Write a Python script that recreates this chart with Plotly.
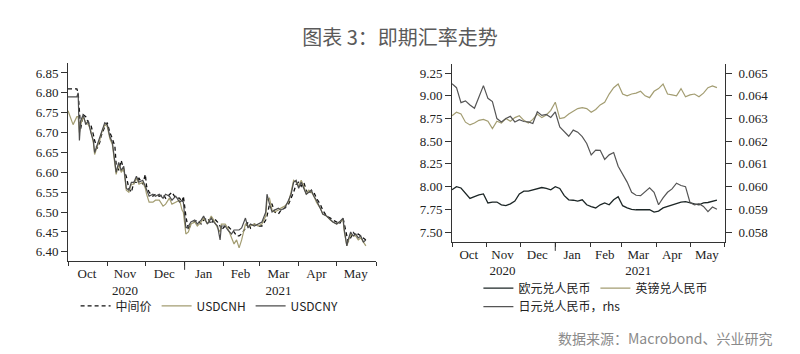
import plotly.graph_objects as go

# ---------------- Left chart: USD/CNY spot ----------------
left_dates = [
    "2020-10-01", "2020-10-05", "2020-10-08", "2020-10-09", "2020-10-10", "2020-10-11",
    "2020-10-13", "2020-10-15", "2020-10-17", "2020-10-19", "2020-10-21", "2020-10-22",
    "2020-10-24", "2020-10-26", "2020-10-27", "2020-10-30", "2020-11-01", "2020-11-03",
    "2020-11-05", "2020-11-07", "2020-11-08", "2020-11-10", "2020-11-12", "2020-11-14",
    "2020-11-16", "2020-11-18", "2020-11-20", "2020-11-22", "2020-11-24", "2020-11-26",
    "2020-11-29", "2020-12-01", "2020-12-02", "2020-12-04", "2020-12-07", "2020-12-09",
    "2020-12-12", "2020-12-15", "2020-12-17", "2020-12-20", "2020-12-22", "2020-12-25",
    "2020-12-28", "2020-12-30", "2020-12-31", "2021-01-02", "2021-01-04", "2021-01-06",
    "2021-01-09", "2021-01-11", "2021-01-14", "2021-01-16", "2021-01-19", "2021-01-22",
    "2021-01-24", "2021-01-27", "2021-01-29", "2021-01-30", "2021-02-02", "2021-02-04",
    "2021-02-07", "2021-02-09", "2021-02-11", "2021-02-13", "2021-02-15", "2021-02-18",
    "2021-02-20", "2021-02-22", "2021-02-25", "2021-02-28", "2021-03-03", "2021-03-06",
    "2021-03-07", "2021-03-09", "2021-03-11", "2021-03-13", "2021-03-16", "2021-03-18",
    "2021-03-21", "2021-03-24", "2021-03-26", "2021-03-28", "2021-03-30", "2021-04-01",
    "2021-04-03", "2021-04-05", "2021-04-07", "2021-04-09", "2021-04-11", "2021-04-13",
    "2021-04-15", "2021-04-18", "2021-04-20", "2021-04-23", "2021-04-26", "2021-04-28",
    "2021-05-01", "2021-05-03", "2021-05-06", "2021-05-07", "2021-05-09", "2021-05-10",
    "2021-05-12", "2021-05-14", "2021-05-16", "2021-05-18", "2021-05-20", "2021-05-22",
    "2021-05-24",
]
usdcny = [
    6.790, 6.790, 6.790, 6.800, 6.680, 6.730, 6.745, 6.720, 6.730, 6.700, 6.680, 6.650,
    6.670, 6.685, 6.700, 6.725, 6.720, 6.690, 6.675, 6.630, 6.600, 6.625, 6.605, 6.615,
    6.560, 6.555, 6.575, 6.575, 6.590, 6.575, 6.580, 6.565, 6.555, 6.540, 6.545, 6.540,
    6.545, 6.535, 6.545, 6.540, 6.530, 6.540, 6.525, 6.530, 6.525, 6.460, 6.465, 6.475,
    6.480, 6.470, 6.480, 6.490, 6.470, 6.485, 6.475, 6.465, 6.430, 6.465, 6.465, 6.455,
    6.445, 6.455, 6.455, 6.455, 6.460, 6.485, 6.460, 6.470, 6.465, 6.470, 6.475, 6.500,
    6.545, 6.520, 6.500, 6.505, 6.510, 6.505, 6.510, 6.530, 6.545, 6.575, 6.580, 6.560,
    6.575, 6.560, 6.545, 6.550, 6.555, 6.540, 6.530, 6.510, 6.495, 6.490, 6.480, 6.475,
    6.470, 6.475, 6.485, 6.455, 6.415, 6.430, 6.450, 6.440, 6.445, 6.435, 6.440, 6.425,
    6.430,
]
usdcnh = [
    6.755, 6.720, 6.740, 6.740, 6.700, 6.720, 6.740, 6.725, 6.720, 6.705, 6.675, 6.645,
    6.665, 6.680, 6.695, 6.720, 6.715, 6.685, 6.670, 6.625, 6.595, 6.620, 6.600, 6.610,
    6.555, 6.550, 6.570, 6.570, 6.585, 6.570, 6.575, 6.560, 6.545, 6.525, 6.525, 6.530,
    6.530, 6.515, 6.520, 6.535, 6.520, 6.525, 6.530, 6.505, 6.500, 6.445, 6.450, 6.470,
    6.475, 6.465, 6.475, 6.485, 6.470, 6.490, 6.480, 6.460, 6.450, 6.470, 6.470, 6.460,
    6.435, 6.420, 6.430, 6.410, 6.430, 6.470, 6.465, 6.465, 6.470, 6.465, 6.470, 6.490,
    6.530, 6.535, 6.505, 6.500, 6.505, 6.510, 6.515, 6.525, 6.550, 6.580, 6.575, 6.565,
    6.580, 6.565, 6.545, 6.555, 6.550, 6.540, 6.525, 6.510, 6.495, 6.490, 6.480, 6.475,
    6.470, 6.475, 6.480, 6.450, 6.415, 6.425, 6.445, 6.440, 6.440, 6.430, 6.435, 6.425,
    6.415,
]
fixing = [
    6.810, 6.810, 6.810, 6.800, 6.750, 6.710, 6.745, 6.740, 6.725, 6.720, 6.695, 6.680,
    6.660, 6.675, 6.690, 6.715, 6.725, 6.700, 6.685, 6.665, 6.620, 6.605, 6.630, 6.605,
    6.590, 6.560, 6.550, 6.575, 6.575, 6.585, 6.570, 6.595, 6.565, 6.550, 6.540, 6.545,
    6.540, 6.545, 6.535, 6.545, 6.550, 6.535, 6.535, 6.525, 6.540, 6.490, 6.455, 6.470,
    6.475, 6.480, 6.470, 6.480, 6.485, 6.470, 6.485, 6.475, 6.465, 6.455, 6.465, 6.465,
    6.455, 6.450, 6.440, 6.440, 6.445, 6.460, 6.475, 6.460, 6.470, 6.465, 6.465, 6.480,
    6.490, 6.520, 6.520, 6.500, 6.495, 6.505, 6.510, 6.520, 6.535, 6.550, 6.570, 6.575,
    6.565, 6.575, 6.555, 6.545, 6.555, 6.550, 6.535, 6.520, 6.505, 6.490, 6.485, 6.480,
    6.475, 6.470, 6.485, 6.470, 6.445, 6.425, 6.435, 6.450, 6.440, 6.445, 6.440, 6.435,
    6.430,
]

# ---------------- Right chart: EUR, GBP, JPY vs CNY ----------------
right_dates = [
    "2020-10-01", "2020-10-05", "2020-10-09", "2020-10-13", "2020-10-17", "2020-10-21",
    "2020-10-25", "2020-10-29", "2020-11-02", "2020-11-06", "2020-11-10", "2020-11-14",
    "2020-11-18", "2020-11-22", "2020-11-26", "2020-11-30", "2020-12-04", "2020-12-08",
    "2020-12-12", "2020-12-16", "2020-12-20", "2020-12-24", "2020-12-28", "2021-01-01",
    "2021-01-05", "2021-01-09", "2021-01-13", "2021-01-17", "2021-01-21", "2021-01-25",
    "2021-01-29", "2021-02-02", "2021-02-06", "2021-02-10", "2021-02-14", "2021-02-18",
    "2021-02-22", "2021-02-26", "2021-03-02", "2021-03-06", "2021-03-10", "2021-03-14",
    "2021-03-18", "2021-03-22", "2021-03-26", "2021-03-30", "2021-04-03", "2021-04-07",
    "2021-04-11", "2021-04-15", "2021-04-19", "2021-04-23", "2021-04-27", "2021-05-01",
    "2021-05-05", "2021-05-09", "2021-05-13", "2021-05-17", "2021-05-21", "2021-05-25",
]
eurcny = [
    7.965, 8.000, 7.985, 7.930, 7.870, 7.890, 7.910, 7.920, 7.820, 7.830, 7.830, 7.800,
    7.790, 7.810, 7.840, 7.920, 7.950, 7.950, 7.965, 7.980, 7.990, 7.980, 7.965, 8.000,
    7.980, 7.900, 7.855, 7.850, 7.840, 7.855, 7.800, 7.780, 7.765, 7.800, 7.820, 7.800,
    7.855, 7.890, 7.790, 7.765, 7.750, 7.745, 7.745, 7.745, 7.745, 7.720, 7.730, 7.765,
    7.780, 7.800, 7.815, 7.830, 7.835, 7.820, 7.810, 7.800, 7.820, 7.825, 7.840, 7.850,
]
gbpcny = [
    8.780, 8.820, 8.800, 8.710, 8.680, 8.700, 8.730, 8.740, 8.720, 8.640, 8.720, 8.700,
    8.750, 8.720, 8.760, 8.780, 8.730, 8.700, 8.740, 8.800, 8.760, 8.790, 8.840, 8.930,
    8.750, 8.760, 8.800, 8.830, 8.860, 8.870, 8.860, 8.820, 8.850, 8.900, 8.930, 9.020,
    9.090, 9.130, 9.020, 9.000, 9.020, 9.030, 9.050, 9.000, 8.980, 9.050, 9.080, 9.130,
    9.020, 9.010, 9.000, 9.080, 8.990, 9.010, 9.020, 8.990, 9.030, 9.090, 9.110, 9.090,
]
jpycny = [
    0.06453, 0.06436, 0.06370, 0.06378, 0.06360, 0.06345, 0.06395, 0.06445, 0.06389, 0.06375,
    0.06300, 0.06285, 0.06300, 0.06310, 0.06285, 0.06295, 0.06287, 0.06285, 0.06278, 0.06330,
    0.06314, 0.06318, 0.06305, 0.06329, 0.06263, 0.06240, 0.06222, 0.06249, 0.06240, 0.06220,
    0.06190, 0.06140, 0.06161, 0.06160, 0.06120, 0.06140, 0.06150, 0.06090, 0.06055, 0.06020,
    0.05975, 0.05962, 0.05960, 0.05978, 0.05995, 0.05975, 0.05920, 0.05950, 0.05975, 0.05990,
    0.06015, 0.06005, 0.06000, 0.05930, 0.05920, 0.05925, 0.05913, 0.05890, 0.05910, 0.05900,
]

# ---------------- Axis labels ----------------
month_starts = [
    "2020-10-01", "2020-11-01", "2020-12-01", "2021-01-01", "2021-02-01",
    "2021-03-01", "2021-04-01", "2021-05-01", "2021-06-01",
]
month_mids = [
    "2020-10-16", "2020-11-15", "2020-12-16", "2021-01-16",
    "2021-02-14", "2021-03-16", "2021-04-15", "2021-05-16",
]
month_text = ["Oct", "Nov<br>2020", "Dec", "Jan", "Feb", "Mar<br>2021", "Apr", "May"]

TITLE = "图表 3：即期汇率走势"
SOURCE = "数据来源：Macrobond、兴业研究"

SERIF = "Liberation Serif, Times New Roman, serif"
CJK = "Noto Sans CJK SC, sans-serif"
AX = "#333333"

fig = go.Figure()

fig.add_trace(go.Scatter(x=left_dates, y=fixing, name="中间价", mode="lines",
                         line=dict(color="#111111", width=1.3, dash="4px,3px"),
                         xaxis="x", yaxis="y", legend="legend"))
fig.add_trace(go.Scatter(x=left_dates, y=usdcnh, name="USDCNH", mode="lines",
                         line=dict(color="#a39d72", width=1.2),
                         xaxis="x", yaxis="y", legend="legend"))
fig.add_trace(go.Scatter(x=left_dates, y=usdcny, name="USDCNY", mode="lines",
                         line=dict(color="#4d4d4d", width=1.2),
                         xaxis="x", yaxis="y", legend="legend"))

fig.add_trace(go.Scatter(x=right_dates, y=eurcny, name="欧元兑人民币", mode="lines",
                         line=dict(color="#1c2626", width=1.3),
                         xaxis="x2", yaxis="y2", legend="legend2"))
fig.add_trace(go.Scatter(x=right_dates, y=gbpcny, name="英镑兑人民币", mode="lines",
                         line=dict(color="#a39d72", width=1.2),
                         xaxis="x2", yaxis="y2", legend="legend2"))
fig.add_trace(go.Scatter(x=right_dates, y=jpycny, name="日元兑人民币，rhs", mode="lines",
                         line=dict(color="#555555", width=1.2),
                         xaxis="x2", yaxis="y3", legend="legend3"))


def xaxis_cfg(domain, anchor):
    return dict(
        domain=domain, anchor=anchor, type="date",
        range=["2020-10-01", "2021-06-01"],
        tickmode="array", tickvals=month_mids, ticktext=month_text, ticks="",
        showline=True, linecolor=AX, linewidth=1, showgrid=False, zeroline=False,
        tickfont=dict(family=SERIF, size=13, color="#222222"),
        minor=dict(tickmode="array", tickvals=month_starts, ticks="outside",
                   ticklen=4, tickcolor=AX, tickwidth=1, showgrid=False),
    )


def yaxis_cfg(domain, anchor, rng, tick0, dtick, fmt, side="left"):
    return dict(
        domain=domain, anchor=anchor, range=rng, tick0=tick0, dtick=dtick,
        tickformat=fmt, ticks="outside", ticklen=6, tickcolor=AX, side=side,
        showline=True, linecolor=AX, linewidth=1, showgrid=False, zeroline=False,
        tickfont=dict(family=SERIF, size=13, color="#222222"),
    )


L_Y = [0.2627, 0.822]
R_Y = [0.3164, 0.819]

fig.update_layout(
    width=800, height=354,
    margin=dict(l=0, r=0, t=0, b=0),
    paper_bgcolor="white", plot_bgcolor="white",
    xaxis=xaxis_cfg([0.085, 0.47], "y"),
    yaxis=yaxis_cfg(L_Y, "x", [6.377, 6.875], 6.40, 0.05, ".2f"),
    xaxis2=xaxis_cfg([0.565, 0.906], "y2"),
    yaxis2=yaxis_cfg(R_Y, "x2", [7.39, 9.35], 7.50, 0.25, ".2f"),
    yaxis3=dict(yaxis_cfg(R_Y, "x2", [0.05756, 0.0654], 0.058, 0.001, ".3f", side="right"),
                overlaying="y2", ticklabelstandoff=4),
    title=dict(text=TITLE, x=0.5, xanchor="center", y=0.893, yanchor="middle",
               font=dict(family=CJK, size=20, color="#5a5a5a")),
    showlegend=True,
    legend=dict(orientation="h", x=0.262, xanchor="center", y=0.136, yanchor="middle",
                font=dict(family=CJK, size=12, color="#222222"), bgcolor="rgba(0,0,0,0)",
                itemwidth=30, tracegroupgap=0),
    legend2=dict(orientation="h", x=0.598, xanchor="left", y=0.186, yanchor="middle",
                 font=dict(family=CJK, size=12, color="#222222"), bgcolor="rgba(0,0,0,0)",
                 itemwidth=30),
    legend3=dict(orientation="h", x=0.598, xanchor="left", y=0.134, yanchor="middle",
                 font=dict(family=CJK, size=12, color="#222222"), bgcolor="rgba(0,0,0,0)",
                 itemwidth=30),
    annotations=[
        dict(text=SOURCE, xref="paper", yref="paper", x=0.969, y=0.045,
             xanchor="right", yanchor="middle", showarrow=False,
             font=dict(family=CJK, size=14, color="#8a8a8a")),
    ],
    shapes=[
        dict(type="line", xref="x", yref="paper", x0="2021-01-01", x1="2021-01-01",
             y0=L_Y[0], y1=L_Y[0] - 0.025, line=dict(color=AX, width=1)),
        dict(type="line", xref="x2", yref="paper", x0="2021-01-01", x1="2021-01-01",
             y0=R_Y[0], y1=R_Y[0] - 0.025, line=dict(color=AX, width=1)),
    ],
)

fig.write_html("out.html")
